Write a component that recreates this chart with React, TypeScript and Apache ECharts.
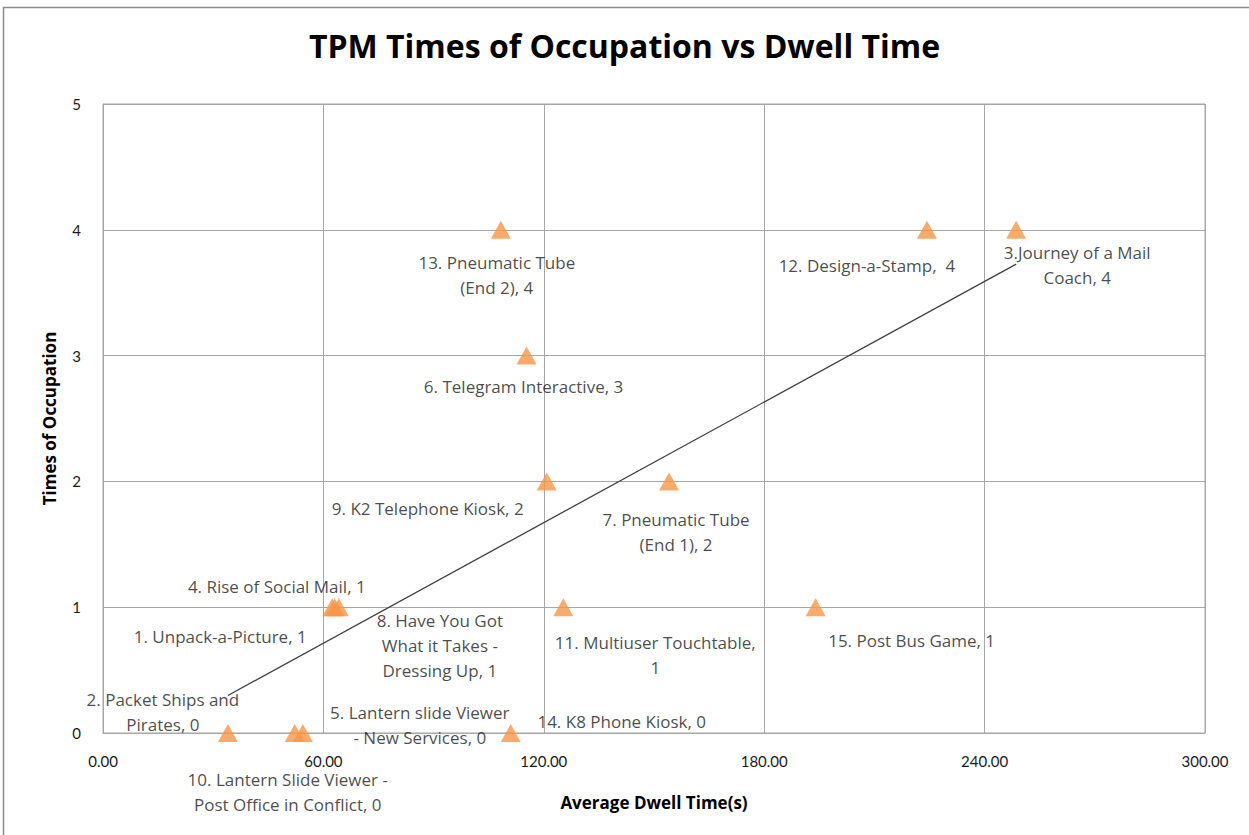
import React, { useEffect, useRef } from "react";
import * as echarts from "echarts";

const titleText = "TPM Times of Occupation vs Dwell Time";
const xAxisName = "Average Dwell Time(s)";
const yAxisName = "Times of Occupation";

const exhibitLabels = [
  "1. Unpack-a-Picture, 1",
  "2. Packet Ships and\nPirates, 0",
  "3.Journey of a Mail\nCoach, 4",
  "4. Rise of Social Mail, 1",
  "5. Lantern slide Viewer\n- New Services, 0",
  "6. Telegram Interactive, 3",
  "7. Pneumatic Tube\n(End 1), 2",
  "8. Have You Got\nWhat it Takes -\nDressing Up, 1",
  "9. K2 Telephone Kiosk, 2",
  "10. Lantern Slide Viewer -\nPost Office in Conflict, 0",
  "11. Multiuser Touchtable,\n1",
  "12. Design-a-Stamp,  4",
  "13. Pneumatic Tube\n(End 2), 4",
  "14. K8 Phone Kiosk, 0",
  "15. Post Bus Game, 1",
];
const dwellTimes = [62.4, 34.0, 248.6, 63.1, 54.4, 115.3, 154.1, 64.2, 120.8, 52.2, 125.3, 224.3, 108.3, 111.0, 194.0];
const occupations = [1, 0, 4, 1, 0, 3, 2, 1, 2, 0, 1, 4, 4, 0, 1];

// label placement offsets (px, label centre relative to marker centre)
const labelOffsets: [number, number][] = [
  [-112, 29], [-65, -21], [61, 35], [-58, -21], [117, -8], [-3, 31], [7, 51], [101, 38],
  [-119, 27], [-7, 59], [92, 48], [-60, 36], [-4, 45], [111, -12], [96, 33],
];

function regression(xs: number[], ys: number[]) {
  const n = xs.length;
  const mx = xs.reduce((a, b) => a + b, 0) / n;
  const my = ys.reduce((a, b) => a + b, 0) / n;
  let sxy = 0, sxx = 0;
  for (let i = 0; i < n; i++) {
    sxy += (xs[i] - mx) * (ys[i] - my);
    sxx += (xs[i] - mx) * (xs[i] - mx);
  }
  const slope = sxy / sxx;
  return { slope, intercept: my - slope * mx };
}

export default function App() {
  const ref = useRef<HTMLDivElement>(null);
  useEffect(() => {
    if (!ref.current) return;
    const chart = echarts.init(ref.current, null, { renderer: "svg" });
    const font = "Open Sans";
    const tickFont = "Lato";
    const { slope, intercept } = regression(dwellTimes, occupations);
    const xmin = Math.min(...dwellTimes);
    const xmax = Math.max(...dwellTimes);
    const trend = [
      [xmin, intercept + slope * xmin],
      [xmax, intercept + slope * xmax],
    ];
    const points = dwellTimes.map((x, i) => ({
      value: [x, occupations[i]],
      label: {
        show: true,
        formatter: exhibitLabels[i],
        position: "inside",
        offset: labelOffsets[i],
        align: "center",
        verticalAlign: "middle",
        color: "#1a1a1a",
        fontFamily: font,
        fontSize: 17,
        lineHeight: 25,
      },
    }));
    chart.setOption({
      animation: false,
      backgroundColor: "#ffffff",
      title: {
        text: titleText,
        left: "center",
        top: 24,
        textStyle: { fontFamily: font, fontWeight: "bold", fontSize: 32, color: "#000" },
      },
      graphic: [
        {
          type: "rect",
          shape: { x: 3.5, y: 7.5, width: 1300, height: 900 },
          style: { fill: "none", stroke: "#8c8c8c", lineWidth: 1.5 },
          silent: true,
        },
      ],
      grid: { left: 103, right: 44, top: 104, bottom: 102, containLabel: false, show: true, borderColor: "#a6a6a6", borderWidth: 1 },
      xAxis: {
        type: "value",
        min: 0,
        max: 300,
        interval: 60,
        name: xAxisName,
        nameLocation: "middle",
        nameGap: 61,
        nameTextStyle: { fontFamily: font, fontWeight: "bold", fontSize: 17, color: "#000" },
        axisLine: { show: true, lineStyle: { color: "#a6a6a6" } },
        axisTick: { show: false },
        axisLabel: {
          formatter: (v: number) => v.toFixed(2),
          fontFamily: tickFont,
          fontSize: 15,
          color: "#1a1a1a",
          margin: 20,
        },
        splitLine: { show: true, lineStyle: { color: "#a6a6a6", width: 1 } },
      },
      yAxis: {
        type: "value",
        min: 0,
        max: 5,
        interval: 1,
        name: yAxisName,
        nameLocation: "middle",
        nameGap: 45,
        nameTextStyle: { fontFamily: font, fontWeight: "bold", fontSize: 17, color: "#000" },
        axisLine: { show: true, lineStyle: { color: "#a6a6a6" } },
        axisTick: { show: false },
        axisLabel: { fontFamily: tickFont, fontSize: 15, color: "#1a1a1a", margin: 22 },
        splitLine: { show: true, lineStyle: { color: "#a6a6a6", width: 1 } },
      },
      series: [
        {
          type: "line",
          data: trend,
          symbol: "none",
          lineStyle: { color: "#404040", width: 1.3 },
          silent: true,
          z: 3,
        },
        {
          type: "scatter",
          data: points,
          symbol: "triangle",
          symbolSize: [20, 18],
          itemStyle: { color: "#F79646" },
          z: 4,
        },
      ],
    });
    return () => chart.dispose();
  }, []);
  return (
    <div
      ref={ref}
      style={{ position: "absolute", left: 0, top: 0, width: 1249, height: 835 }}
    />
  );
}
